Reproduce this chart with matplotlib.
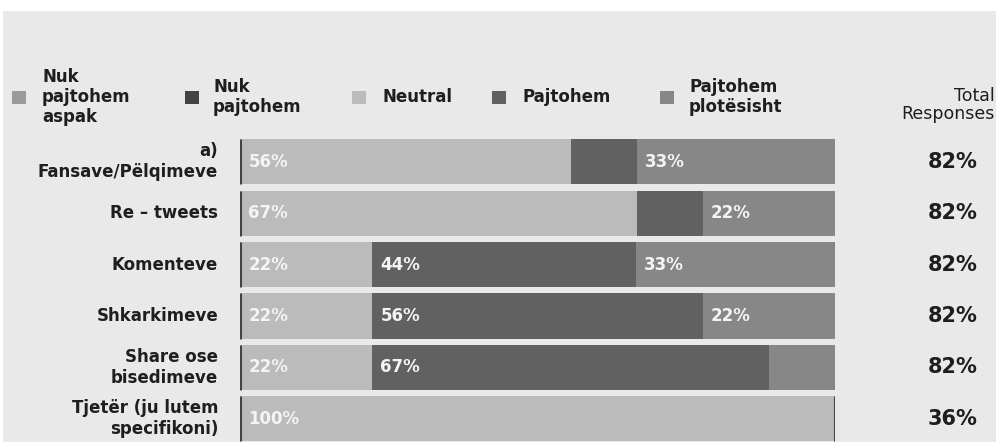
import numpy as np
import matplotlib.pyplot as plt

plt.rcParams['font.family'] = ['DejaVu Sans']

categories = ['a)\nFansave/Pëlqimeve', 'Re – tweets', 'Komenteve', 'Shkarkimeve',
              'Share ose\nbisedimeve', 'Tjetër (ju lutem\nspecifikoni)']
series = ['Nuk\npajtohem\naspak', 'Nuk\npajtohem', 'Neutral', 'Pajtohem', 'Pajtohem\nplotësisht']
nuk_aspak = [0, 0, 0, 0, 0, 0]
nuk = [0, 0, 0, 0, 0, 0]
neutral = [55.6, 66.7, 22.2, 22.2, 22.2, 100]
pajtohem = [11.1, 11.1, 44.4, 55.6, 66.7, 0]
plotesisht = [33.3, 22.2, 33.4, 22.2, 11.1, 0]
totals = ['82%', '82%', '82%', '82%', '82%', '36%']

colors = ['#9a9a9a', '#444444', '#bbbbbb', '#616161', '#878787']
bg = '#e9e9e9'
txt = '#1e1e1e'

fig = plt.figure(figsize=(9.96, 4.42), dpi=100)
fig.patch.set_facecolor('white')
fig.patches.append(plt.Rectangle((0.003, 0), 0.997, 0.975, transform=fig.transFigure,
                                 facecolor=bg, edgecolor='none', zorder=-10))

ax = fig.add_axes([0.241, 0.0, 0.597, 0.692])
ax.patch.set_alpha(0)

y = np.arange(len(categories))
data = [nuk_aspak, nuk, neutral, pajtohem, plotesisht]
left = np.zeros(len(categories))
for k, (vals, col) in enumerate(zip(data, colors)):
    vals = np.array(vals, dtype=float)
    ax.barh(y, vals, left=left, height=0.88, color=col, edgecolor='none')
    for i, v in enumerate(vals):
        # zero-width "Nuk pajtohem" / "Pajtohem" segments show up as a thin dark line
        if v == 0 and (k == 1 or (k == 3 and left[i] >= 99.9)):
            ax.plot([left[i], left[i]], [i - 0.44, i + 0.44], color='#444444', lw=2.2,
                    solid_capstyle='butt')
        if v >= 20:
            ax.text(left[i] + 1.4, i, f'{v:.0f}%', va='center', ha='left', color='#f4f4f4',
                    fontsize=12, fontweight='bold')
    left += vals

ax.set_xlim(0, 100)
ax.set_ylim(5.45, -0.5)
ax.axis('off')

# category labels and totals
for i, c in enumerate(categories):
    ax.text(-3.7, i, c, ha='right', va='center', fontsize=12, fontweight='bold',
            color=txt, linespacing=1.2)
    ax.text(124, i, totals[i], ha='right', va='center', fontsize=15, fontweight='bold',
            color=txt)

# legend
leg_x = [12, 185, 352, 492, 660]
text_x = [42, 213, 382, 522, 689]
for sx, tx, lab, col in zip(leg_x, text_x, series, colors):
    fig.patches.append(plt.Rectangle((sx / 996, 1 - 104 / 442), 14 / 996, 13 / 442,
                                     transform=fig.transFigure, facecolor=col, edgecolor='none'))
    fig.text(tx / 996, 1 - 97 / 442, lab, ha='left', va='center', fontsize=12,
             fontweight='bold', color=txt, linespacing=1.15)
fig.text(995 / 996, 1 - 105 / 442, 'Total\nResponses', ha='right', va='center', fontsize=12.5,
         color=txt, linespacing=1.05)

fig.savefig('out.png', dpi=100, facecolor=fig.get_facecolor())
